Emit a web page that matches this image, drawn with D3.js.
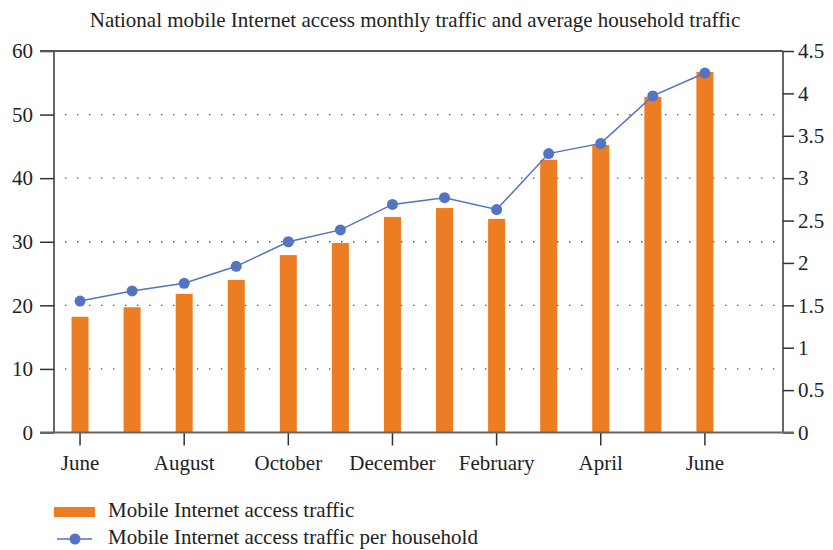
<!DOCTYPE html>
<html>
<head>
<meta charset="utf-8">
<script src="https://cdn.jsdelivr.net/npm/d3@7"></script>
<style>
  body { margin: 0; background: #fff; }
  svg text { font-family: "Liberation Serif", "DejaVu Serif", serif; fill: #222; }
</style>
</head>
<body>
<svg id="chart" width="833" height="550"></svg>
<script>
// data
var months = ["June", "July", "August", "September", "October", "November", "December",
              "January", "February", "March", "April", "May", "June "];
var tickLabels = ["June", "August", "October", "December", "February", "April", "June "];
var traffic = [18.2, 19.7, 21.8, 24.0, 27.9, 29.8, 33.9, 35.3, 33.6, 42.9, 45.2, 52.8, 56.7];
var perHousehold = [1.55, 1.67, 1.76, 1.96, 2.25, 2.39, 2.69, 2.77, 2.63, 3.29, 3.41, 3.97, 4.24];
var leftTicks = [0, 10, 20, 30, 40, 50, 60];
var rightTicks = [0, 0.5, 1, 1.5, 2, 2.5, 3, 3.5, 4, 4.5];

var orange = "#ed7d23", blue = "#5274c2";

function draw_chart()
{
    var svg = d3.select("svg#chart");
    var left = 54, right = 783, top = 51, bottom = 432.5;

    // 14 slots, the last one stays empty
    var x = d3.scaleBand()
        .domain(months.concat(["_pad"]))
        .range([left, right])
        .paddingInner(0)
        .paddingOuter(0);
    var yL = d3.scaleLinear().domain([0, 60]).range([bottom, top]);
    var yR = d3.scaleLinear().domain([0, 4.5]).range([bottom, top]);

    // title
    svg.append("text")
        .attr("x", 415).attr("y", 27)
        .attr("text-anchor", "middle")
        .attr("font-size", "21px")
        .text("National mobile Internet access monthly traffic and average household traffic");

    // dotted grid
    svg.append("g").selectAll("line")
        .data(leftTicks.filter(function (d) { return d > 0 && d < 60; }))
        .enter().append("line")
        .attr("x1", left + 11).attr("x2", right - 5)
        .attr("y1", function (d) { return yL(d); })
        .attr("y2", function (d) { return yL(d); })
        .attr("stroke", "#555")
        .attr("stroke-width", 1.4)
        .attr("stroke-dasharray", "1.4,10.6");

    // bars
    var bw = 17;
    svg.append("g").selectAll("rect")
        .data(traffic)
        .enter().append("rect")
        .attr("x", function (d, i) { return x(months[i]) + x.bandwidth() / 2 - bw / 2; })
        .attr("y", function (d) { return yL(d); })
        .attr("width", bw)
        .attr("height", function (d) { return bottom - yL(d); })
        .attr("fill", orange);

    // left axis
    var gl = svg.append("g").attr("transform", "translate(" + left + ",0)")
        .call(d3.axisLeft(yL).tickValues(leftTicks).tickSize(14).tickPadding(7));
    // right axis
    var gr = svg.append("g").attr("transform", "translate(" + right + ",0)")
        .call(d3.axisRight(yR).tickValues(rightTicks).tickSize(11).tickPadding(4)
              .tickFormat(function (d) { return d3.format("")(d); }));
    // bottom axis
    var gb = svg.append("g").attr("transform", "translate(0," + bottom + ")")
        .call(d3.axisBottom(x).tickValues(tickLabels)
              .tickSize(13).tickPadding(10)
              .tickFormat(function (d) { return d.trim(); }));

    [gl, gr, gb].forEach(function (g) {
        g.select(".domain").remove();
        g.selectAll("line").attr("stroke", "#333").attr("stroke-width", 1.5);
        g.selectAll("text").attr("font-size", "21px")
            .style("font-family", "Liberation Serif, serif").attr("fill", "#222");
    });

    // frame lines
    svg.append("line").attr("x1", left).attr("x2", left).attr("y1", top).attr("y2", bottom)
        .attr("stroke", "#333").attr("stroke-width", 1.5);
    svg.append("line").attr("x1", right).attr("x2", right).attr("y1", top).attr("y2", bottom)
        .attr("stroke", "#333").attr("stroke-width", 1.5);
    svg.append("line").attr("x1", 40).attr("x2", right).attr("y1", top).attr("y2", top)
        .attr("stroke", "#555").attr("stroke-width", 2);
    svg.append("line").attr("x1", 40).attr("x2", right + 11).attr("y1", bottom).attr("y2", bottom)
        .attr("stroke", "#666").attr("stroke-width", 2.2);

    // household line
    var line = d3.line()
        .x(function (d, i) { return x(months[i]) + x.bandwidth() / 2; })
        .y(function (d) { return yR(d); });
    svg.append("path")
        .datum(perHousehold)
        .attr("d", line)
        .attr("fill", "none")
        .attr("stroke", blue)
        .attr("stroke-width", 1.5);
    svg.append("g").selectAll("circle")
        .data(perHousehold)
        .enter().append("circle")
        .attr("cx", function (d, i) { return x(months[i]) + x.bandwidth() / 2; })
        .attr("cy", function (d) { return yR(d); })
        .attr("r", 5.5)
        .attr("fill", blue);

    // legend
    var lg = svg.append("g");
    lg.append("rect").attr("x", 54).attr("y", 507).attr("width", 41).attr("height", 10).attr("fill", orange);
    lg.append("text").attr("x", 108).attr("y", 517).attr("font-size", "21px").text("Mobile Internet access traffic");
    lg.append("line").attr("x1", 57).attr("x2", 92).attr("y1", 539).attr("y2", 539)
        .attr("stroke", blue).attr("stroke-width", 1.5);
    lg.append("circle").attr("cx", 75).attr("cy", 539).attr("r", 5.5).attr("fill", blue);
    lg.append("text").attr("x", 108).attr("y", 544).attr("font-size", "21px").text("Mobile Internet access traffic per household");
}

draw_chart();
</script>
</body>
</html>
